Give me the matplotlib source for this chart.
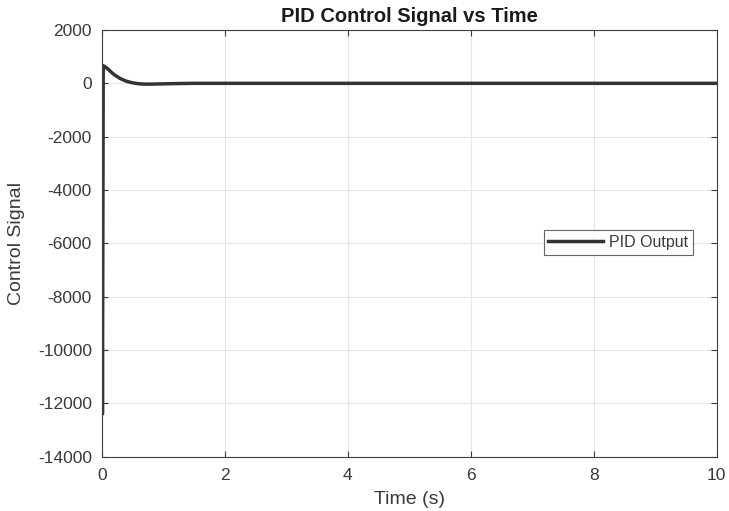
import matplotlib.pyplot as plt

plt.rcParams['font.family'] = ['Liberation Sans', 'DejaVu Sans']
plt.rcParams['axes.unicode_minus'] = False

# PID output
time_s = [0.0, 0.012, 0.025, 0.05, 0.1, 0.15, 0.2, 0.3, 0.4, 0.5, 0.6, 0.7, 0.8, 1.0, 1.2, 1.5, 2.0, 4.0, 6.0, 8.0, 10.0]
control = [0, -12400, 660, 630, 540, 430, 330, 180, 80, 20, -15, -30, -30, -20, -10, 0, 0, 0, 0, 0, 0]

xticks = [0, 2, 4, 6, 8, 10]
yticks = [2000, 0, -2000, -4000, -6000, -8000, -10000, -12000, -14000]

txt = '#3a3a3a'

fig = plt.figure(figsize=(7.29, 5.11), dpi=100)
ax = fig.add_axes([0.1395, 0.1063, 0.8436, 0.835])

ax.plot(time_s, control, color='#333333', linewidth=2.5, label='PID Output')

ax.set_xlim(0, 10)
ax.set_ylim(-14000, 2000)
ax.set_xticks(xticks)
ax.set_yticks(yticks)
ax.grid(True, color='#e6e6e6', linewidth=0.8)
ax.set_axisbelow(True)
ax.tick_params(direction='in', top=True, right=True, labelsize=12.5, colors=txt, length=4)
ax.tick_params(axis='x', pad=8)
ax.tick_params(axis='y', pad=7)
for s in ax.spines.values():
    s.set_color('#404040')
    s.set_linewidth(0.8)

ax.set_title('PID Control Signal vs Time', fontsize=14.5, fontweight='bold', pad=6, color='#1a1a1a')
ax.set_xlabel('Time (s)', fontsize=14, color=txt)
ax.set_ylabel('Control Signal', fontsize=14, color=txt)
ax.xaxis.label.set_va('center')
ax.yaxis.label.set_va('center')
ax.xaxis.set_label_coords(0.5, -0.1015)
ax.yaxis.set_label_coords(-0.138, 0.5)

leg = ax.legend(loc='center right', bbox_to_anchor=(0.9615, 0.502), borderaxespad=0,
                fontsize=11.5, fancybox=False, edgecolor='#404040', handlelength=3.4,
                handletextpad=0.4, borderpad=0.3, labelcolor=txt)
leg.get_frame().set_linewidth(0.8)

fig.savefig('out.png', dpi=100)
